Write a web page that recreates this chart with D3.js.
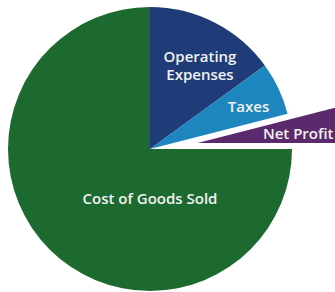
<!DOCTYPE html>
<html lang="en">
<head>
    <meta charset="UTF-8">
    <title>Pie</title>
    <script src="https://d3js.org/d3.v7.min.js"></script>
    <style>
        body { margin: 0; background: #ffffff; }
        svg { display: block; }
        text {
            font-family: "Open Sans", "Noto Sans", sans-serif;
            font-weight: 600;
            fill: #f2f2f2;
            text-anchor: middle;
        }
    </style>
</head>
<body>
    <svg width="335" height="292"></svg>
    <script>
        var categories = ["Operating Expenses", "Taxes", "Net Profit", "Cost of Goods Sold"];
        var values = [15, 6, 4, 75];
        var colors = ["#1f3c78", "#1e86bf", "#5a2a6c", "#1d6a31"];

        // label lines, plus where each label sits (degrees clockwise from 12 o'clock, px from centre)
        var labelLines = [["Operating", "Expenses"], ["Taxes"], ["Net Profit"], ["Cost of Goods Sold"]];
        var labelPlace = [[31, 97], [67, 107], [85, 101], [180, 50]];
        var explode = [0, 0, 48, 0];

        var cx = 150, cy = 149, r = 142;

        var svg = d3.select("svg");
        var g = svg.append("g").attr("transform", "translate(" + cx + "," + cy + ")");

        var pie = d3.pie().sort(null).value(function (d) { return d; });
        var arcs = pie(values);
        var arc = d3.arc().innerRadius(0).outerRadius(r);

        var slice = g.selectAll("g.slice")
            .data(arcs)
            .enter()
            .append("g")
            .attr("class", "slice")
            .attr("transform", function (d, i) {
                var a = (d.startAngle + d.endAngle) / 2;
                return "translate(" + (Math.sin(a) * explode[i]) + "," + (-Math.cos(a) * explode[i]) + ")";
            });

        slice.append("path")
            .attr("d", arc)
            .attr("fill", function (d, i) { return colors[i]; });

        slice.append("text")
            .attr("font-size", 15)
            .attr("transform", function (d, i) {
                var a = labelPlace[i][0] * Math.PI / 180, lr = labelPlace[i][1];
                return "translate(" + (Math.sin(a) * lr) + "," + (-Math.cos(a) * lr) + ")";
            })
            .each(function (d, i) {
                var lines = labelLines[i];
                var t = d3.select(this);
                lines.forEach(function (s, k) {
                    t.append("tspan")
                        .attr("x", 0)
                        .attr("y", (k - (lines.length - 1) / 2) * 18 + 5)
                        .text(s);
                });
            });
    </script>
</body>
</html>
